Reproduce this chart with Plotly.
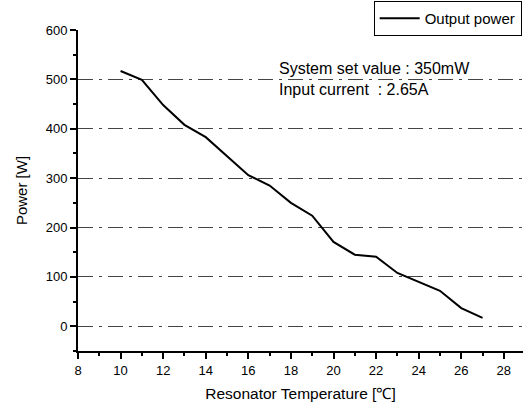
import plotly.graph_objects as go

temperature = [10, 11, 12, 13, 14, 15, 16, 17, 18, 19, 20, 21, 22, 23, 24, 25, 26, 27]
power = [517, 499, 448, 408, 383, 345, 306, 285, 250, 224, 171, 145, 141, 108, 90, 72, 37, 17]

x_ticks = [8, 10, 12, 14, 16, 18, 20, 22, 24, 26, 28]
y_ticks = [0, 100, 200, 300, 400, 500, 600]

fig = go.Figure()
fig.add_trace(go.Scatter(
    x=temperature, y=power, mode="lines", name="Output power",
    line=dict(color="black", width=2),
))

fig.add_annotation(
    x=17.35, y=500, xref="x", yref="y", xanchor="left", yanchor="middle",
    text="System set value : 350mW<br>Input current  : 2.65A",
    showarrow=False, align="left",
    font=dict(family="Liberation Sans, Arial", size=16, color="black"),
)

fig.update_layout(
    width=523, height=403,
    margin=dict(l=78, r=0, t=30, b=52),
    paper_bgcolor="white", plot_bgcolor="white",
    font=dict(family="Liberation Sans, Arial", size=13, color="black"),
    showlegend=True,
    legend=dict(
        x=0.997, xanchor="right", y=1.09, yanchor="top",
        bordercolor="black", borderwidth=1, bgcolor="white",
        font=dict(size=15), itemwidth=40,
        tracegroupgap=0,
    ),
    xaxis=dict(
        range=[8, 28.9], tickvals=x_ticks, ticks="outside", ticklen=6,
        tickwidth=1.5, tickcolor="black",
        minor=dict(dtick=1, tick0=8, ticks="outside", ticklen=3, tickcolor="black"),
        showline=True, linecolor="black", linewidth=2, showgrid=False,
        zeroline=False,
        title=dict(text="Resonator Temperature [℃]", font=dict(size=15.5), standoff=12),
    ),
    yaxis=dict(
        range=[-50, 600], tickvals=y_ticks, ticks="outside", ticklen=6,
        tickwidth=1.5, tickcolor="black",
        minor=dict(dtick=50, tick0=0, ticks="outside", ticklen=3, tickcolor="black",
                   showgrid=False),
        showline=True, linecolor="black", linewidth=2,
        showgrid=True, gridcolor="#444", gridwidth=1, griddash="longdashdot",
        zeroline=False,
        title=dict(text="Power [W]", font=dict(size=15), standoff=14),
    ),
)

fig.write_html("out.html", config={"displayModeBar": False},
               post_script="document.body.style.margin='0';")
